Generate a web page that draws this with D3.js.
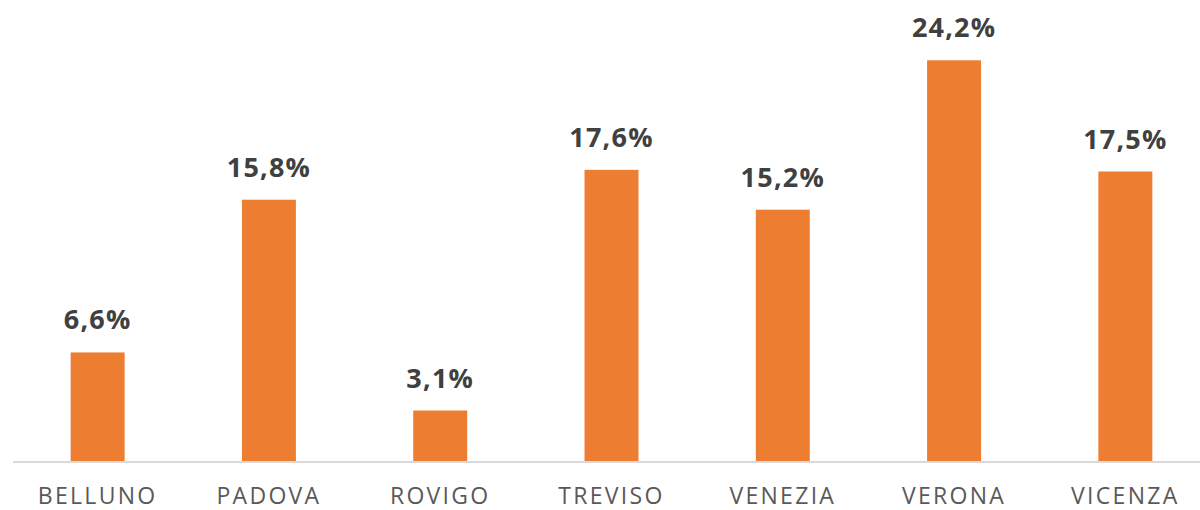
<!DOCTYPE html>
<html>
<head>
<meta charset="utf-8">
<script src="https://cdn.jsdelivr.net/npm/d3@7"></script>
<style>
  body { margin: 0; background: #fff; overflow: hidden; }
  svg text { font-family: "Open Sans", "Noto Sans", sans-serif; }
</style>
</head>
<body>
<div id="chart"></div>
<script>
const provinces = ["BELLUNO", "PADOVA", "ROVIGO", "TREVISO", "VENEZIA", "VERONA", "VICENZA"];
const shares = [6.6, 15.8, 3.1, 17.6, 15.2, 24.2, 17.5];

const width = 1200, height = 510;
const baseY = 462;

const svg = d3.select("#chart").append("svg")
    .attr("width", width)
    .attr("height", height)
    .style("display", "block");

// Scales
const xScale = d3.scaleBand()
    .domain(provinces)
    .range([12, 1211])
    .paddingInner(0.685)
    .paddingOuter(0.3425);

const yScale = d3.scaleLinear()
    .domain([0, 25])
    .range([baseY, baseY - 16.6 * 25]);

const data = provinces.map((p, i) => ({ name: p, value: shares[i] }));

// Bars
svg.selectAll(".bar")
    .data(data)
    .enter()
    .append("rect")
    .attr("class", "bar")
    .attr("x", d => xScale(d.name))
    .attr("y", d => yScale(d.value))
    .attr("width", xScale.bandwidth())
    .attr("height", d => baseY - yScale(d.value))
    .attr("fill", "#ED7D31");

// Baseline axis
const axis = svg.append("g")
    .attr("transform", `translate(0,${baseY})`)
    .call(d3.axisBottom(xScale).tickSize(0).tickPadding(0));
axis.select(".domain").attr("stroke", "#d9d9d9").attr("stroke-width", 2)
    .attr("d", "M13,0H1200");
axis.selectAll("text")
    .attr("y", 42)
    .attr("dy", 0)
    .attr("font-size", 23)
    .attr("letter-spacing", 2.3)
    .attr("fill", "#595959")
    .attr("font-family", "'Open Sans', sans-serif");

// Value labels
svg.selectAll(".label")
    .data(data)
    .enter()
    .append("text")
    .attr("class", "label")
    .attr("x", d => xScale(d.name) + xScale.bandwidth() / 2)
    .attr("y", d => yScale(d.value) - 23)
    .attr("text-anchor", "middle")
    .attr("font-size", 27)
    .attr("font-weight", "bold")
    .attr("letter-spacing", 1.2)
    .attr("fill", "#404040")
    .text(d => d.value.toFixed(1).replace(".", ",") + "%");
</script>
</body>
</html>
